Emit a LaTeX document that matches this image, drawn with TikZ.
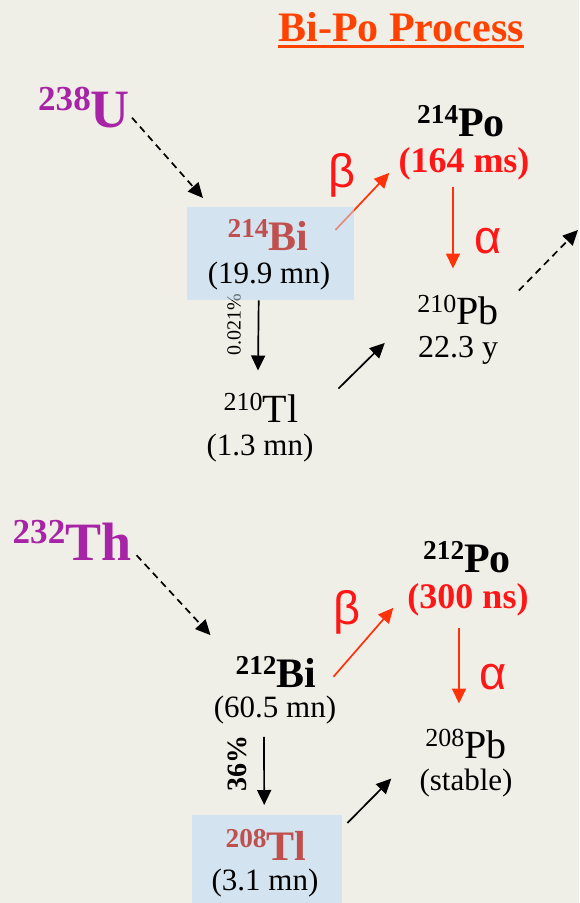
\documentclass[tikz,border=0pt]{standalone}
\usepackage{fontspec}
\setmainfont{Liberation Serif}
\newfontfamily\greekfont{Liberation Sans}
\usetikzlibrary{arrows.meta}

\definecolor{paper}{RGB}{240,239,231}
\definecolor{boxblue}{RGB}{211,227,240}
\definecolor{mothercol}{RGB}{168,36,166}
\definecolor{bicol}{RGB}{192,80,77}
\definecolor{hot}{RGB}{255,22,22}
\definecolor{arrowred}{RGB}{255,50,10}
\definecolor{titlecol}{RGB}{255,66,0}

\newcommand{\fsz}[1]{\fontsize{#1}{#1}\selectfont}
\newcommand{\iso}[2]{\raisebox{.3em}{\scalebox{.65}{#1}}#2}

\tikzset{
    decay/.style={-{Triangle[length=15pt,width=14pt]},line width=1.7pt},
    chain/.style={decay,dash pattern=on 7pt off 5pt},
    alphabeta/.style={decay,draw=arrowred},
    greek/.style={font=\greekfont\fsz{47},text=hot,anchor=center},
    mother/.style={font=\fsz{54}\bfseries,text=mothercol},
    nuc/.style={font=\fsz{42}\bfseries},
    nucr/.style={font=\fsz{40}},
    fast/.style={font=\fsz{36}\bfseries,text=hot},
    life/.style={font=\fsz{31}},
    cell/.style={fill=boxblue,anchor=north west},
}

\begin{document}
\begin{tikzpicture}[x=1pt,y=-1pt,every node/.style={inner sep=0pt,anchor=base}]
    \fill[paper] (0,0) rectangle (579,903);
    \useasboundingbox (0,0) rectangle (579,903);
% Title
    \node[font=\fsz{42}\bfseries,text=titlecol] (title) at (401,41) {Bi-Po Process};
    \draw[titlecol,line width=3pt] ([yshift=-5pt]title.base west) -- ([yshift=-5pt]title.base east);
% Uranium chain
    \node[mother] (U) at (84,127) {\iso{238}{U}};
    \node[cell,minimum width=167pt,minimum height=93pt] (bibox) at (187,207) {};
    \node[nuc] (po) at (461,136) {\iso{214}{Po}};
    \node[fast] (pot) at (464,172) {(164 ms)};
    \node[nucr] (pb) at (458,324) {\iso{210}{Pb}};
    \node[life,font=\fsz{32}] (pbt) at (458,357) {22.3 y};
    \node[nucr] (tl) at (261,422) {\iso{210}{Tl}};
    \node[life] (tlt) at (260,455) {(1.3 mn)};
    \node[font=\fsz{20},rotate=90,anchor=center] (frac) at (234,325) {0.021\%};
    \coordinate (out) at (578,230);
    % arrows
    \draw[chain] ([shift={(2,-10)}]U.south east) -- ([shift={(16,-9)}]bibox.north west);
    \draw[alphabeta] ([shift={(-19,23)}]bibox.north east) -- ([shift={(-9,-7)}]pot.south west);
    \fill[boxblue,opacity=.5] (bibox.north west) rectangle (bibox.south east);
    \draw[alphabeta] ([shift={(-11,7)}]pot.south) -- ([shift={(-5,-26)}]pb.north);
    \draw[decay] ([shift={(-12,0)}]bibox.south) -- ([shift={(-3,-22)}]tl.north);
    \draw[decay] ([shift={(40,-4)}]tl.north east) -- ([shift={(-33,-7)}]pbt.west);
    \draw[chain] ([shift={(20,-4)}]pb.north east) -- (out);
    \node[nuc,text=bicol] (bi) at (268,250) {\iso{214}{Bi}};
    \node[life] (bit) at (269,283) {(19.9 mn)};
% Thorium chain
    \node[mother] (Th) at (72,560) {\iso{232}{Th}};
    \node[cell,minimum width=150pt,minimum height=88pt] (tlbox) at (192,815) {};
    \node[nuc] (bi2) at (276,687) {\iso{212}{Bi}};
    \node[life] (bi2t) at (275,717) {(60.5 mn)};
    \node[nuc] (po2) at (467,572) {\iso{212}{Po}};
    \node[fast] (po2t) at (468,608) {(300 ns)};
    \node[nucr] (pb2) at (466,758) {\iso{208}{Pb}};
    \node[life] (pb2t) at (466,790) {(stable)};
    \node[nuc,text=bicol] (tl2) at (266,860) {\iso{208}{Tl}};
    \node[life] (tl2t) at (265,890) {(3.1 mn)};
    \node[font=\fsz{28}\bfseries,rotate=90,anchor=center] (pct) at (237,763) {36\%};
    % arrows
    \draw[chain] ([shift={(5,-5)}]Th.south east) -- ([shift={(-25,-21)}]bi2.north west);
    \draw[alphabeta] ([shift={(17,5)}]bi2.east) -- ([shift={(-14,-8)}]po2t.south west);
    \draw[alphabeta] ([shift={(-9,12)}]po2t.south) -- ([shift={(-7,-25)}]pb2.north);
    \draw[decay] ([shift={(-11,13)}]bi2t.south) -- ([shift={(-3,-10)}]tlbox.north);
    \draw[decay] ([shift={(5,8)}]tlbox.north east) -- ([shift={(-28,-4)}]pb2t.west);
% Alpha and beta
    \foreach \n/\s/\x/\y in {beta1/β/342/175,alpha1/α/488/241,beta2/β/347/612,alpha2/α/493/677}
        \node[greek] (\n) at (\x,\y) {\s};
\end{tikzpicture}
\end{document}
